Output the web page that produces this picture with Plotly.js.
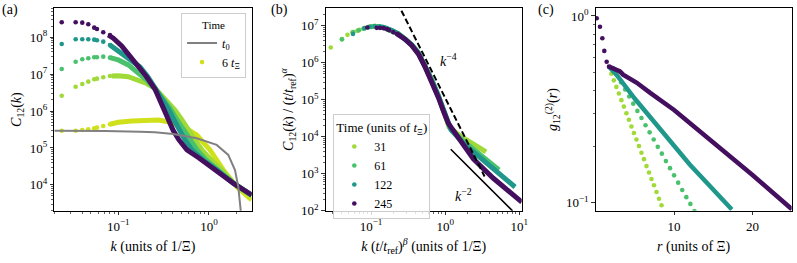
<!DOCTYPE html>
<html>
<head>
<meta charset="utf-8">
<script src="https://cdn.plot.ly/plotly-3.0.1.min.js"></script>
<style>html,body{margin:0;padding:0;background:#fff;}#plot{width:797px;height:263px;}</style>
</head>
<body>
<div id="plot"></div>
<script>
// ---------- Panel (a): C12(k) ----------
const kA_t0 = [0.0197, 0.0400, 0.0713, 0.1735, 0.2539, 0.4041, 0.7317, 1.216, 1.632, 1.935, 2.103, 2.236, 2.27];
const cA_t0 = [2.94e5, 2.96e5, 2.89e5, 2.77e5, 2.66e5, 2.40e5, 1.83e5, 1.21e5, 6.46e4, 2.53e4, 8.94e3, 2.09e3, 1.0e3];

const kA_dots = [0.0238, 0.0339, 0.0401, 0.0467, 0.0543, 0.0582, 0.0683, 0.0810];
const cA6_dots   = [2.94e5, 2.94e5, 3.07e5, 3.21e5, 3.42e5, 3.55e5, 3.95e5, 4.39e5];
const cA31_dots  = [2.61e6, 4.58e6, 5.43e6, 6.26e6, 7.28e6, 7.55e6, 8.24e6, 8.94e6];
const cA61_dots  = [1.38e7, 2.18e7, 2.53e7, 2.70e7, 2.87e7, 2.87e7, 2.98e7, 2.80e7];
const cA122_dots = [6.58e7, 8.83e7, 8.83e7, 8.83e7, 8.61e7, 8.29e7, 7.60e7, 6.18e7];
const cA245_dots = [2.55e8, 2.55e8, 2.49e8, 2.25e8, 1.82e8, 1.68e8, 1.37e8, 1.154e8];

const kA6_line = [0.081, 0.1, 0.1406, 0.197, 0.2761, 0.3558, 0.4325, 0.5209, 0.7317, 1.026, 1.438, 2.020, 2.958];
const cA6_line = [4.39e5, 4.97e5, 5.39e5, 5.74e5, 5.74e5, 5.16e5, 4.47e5, 3.78e5, 2.25e5, 8.83e4, 2.53e4, 8.94e3, 3.90e3];
const kA31_line = [0.0846, 0.1, 0.1289, 0.1595, 0.2057, 0.2539, 0.3272, 0.4219, 0.5039, 0.5870, 0.7008, 0.8372, 1.052, 1.391, 1.840, 2.958];
const cA31_line = [8.94e6, 9.11e6, 8.55e6, 6.97e6, 5.60e6, 4.15e6, 2.22e6, 1.07e6, 5.74e5, 3.07e5, 1.65e5, 8.83e4, 4.73e4, 2.53e4, 1.13e4, 5.10e3];
const kA61_line = [0.081, 0.1, 0.1289, 0.1595, 0.2057, 0.2539, 0.3033, 0.3715, 0.4436, 0.53, 0.6166, 0.7373, 0.9266, 1.256, 1.840, 2.958];
const cA61_line = [2.80e7, 2.43e7, 1.78e7, 1.17e7, 6.97e6, 3.97e6, 2.27e6, 1.20e6, 5.74e5, 3.07e5, 1.65e5, 8.83e4, 4.73e4, 2.53e4, 1.13e4, 5.16e3];
const kA122_line = [0.081, 0.1, 0.1185, 0.1416, 0.1735, 0.2126, 0.2604, 0.3033, 0.3622, 0.4117, 0.4667, 0.5439, 0.6496, 0.8587, 1.225, 1.840, 2.958];
const cA122_line = [6.18e7, 4.25e7, 3.31e7, 2.43e7, 1.57e7, 8.40e6, 3.97e6, 2.13e6, 1.07e6, 5.74e5, 3.07e5, 1.65e5, 8.83e4, 4.73e4, 2.53e4, 1.13e4, 5.23e3];
const kA245_line = [0.0776, 0.0881, 0.109, 0.1346, 0.1662, 0.2021, 0.2539, 0.2883, 0.3191, 0.3532, 0.4012, 0.4667, 0.5715, 0.7763, 1.216, 1.853, 2.958];
const cA245_line = [1.154e8, 9.40e7, 5.81e7, 3.11e7, 1.78e7, 8.94e6, 3.97e6, 2.00e6, 1.07e6, 5.74e5, 3.07e5, 1.65e5, 8.83e4, 5.36e4, 2.28e4, 1.105e4, 5.32e3];

// ---------- Panel (b): rescaled ----------
const xB31_dots = [0.0286, 0.0407, 0.0481, 0.056, 0.0652, 0.0698, 0.082, 0.0931, 0.1015];
const yB31_dots = [2.59e6, 4.37e6, 5.71e6, 6.67e6, 7.32e6, 7.79e6, 8.66e6, 9.40e6, 9.69e6];
const xB31_line = [0.1015, 0.1133, 0.1545, 0.190, 0.2334, 0.2873, 0.354, 0.4344, 0.535, 0.6585, 0.8085, 0.944, 1.127, 1.586, 2.302, 3.556];
const yB31_line = [9.69e6, 9.81e6, 8.83e6, 7.55e6, 6.07e6, 4.45e6, 3.06e6, 1.86e6, 8.26e5, 3.45e5, 1.27e5, 5.32e4, 1.84e4, 1.05e4, 6.80e3, 3.88e3];
const xB61_dots = [0.0404, 0.0575, 0.068, 0.0792, 0.0921, 0.0988];
const yB61_dots = [4.31e6, 6.76e6, 7.55e6, 8.40e6, 9.11e6, 9.40e6];
const xB61_line = [0.0988, 0.1133, 0.1545, 0.190, 0.2334, 0.2873, 0.354, 0.4344, 0.535, 0.6585, 0.8085, 0.944, 1.163, 1.687, 2.951, 5.32];
const yB61_line = [9.40e6, 9.81e6, 8.83e6, 7.55e6, 6.07e6, 4.45e6, 3.06e6, 1.86e6, 8.26e5, 3.45e5, 1.27e5, 5.32e4, 1.73e4, 8.2e3, 3.22e3, 1.26e3];
const xB122_dots = [0.0571, 0.0814, 0.0962, 0.112, 0.130, 0.140];
const yB122_dots = [6.0e6, 8.66e6, 9.40e6, 9.69e6, 9.69e6, 9.40e6];
const xB122_line = [0.140, 0.1545, 0.190, 0.2334, 0.2873, 0.354, 0.4344, 0.535, 0.6585, 0.8085, 0.944, 1.199, 1.852, 3.446, 8.75];
const yB122_line = [9.40e6, 8.83e6, 7.55e6, 6.07e6, 4.45e6, 3.06e6, 1.86e6, 8.26e5, 3.45e5, 1.27e5, 5.32e4, 1.53e4, 6.0e3, 2.08e3, 4.38e2];
const xB245_dots = [0.0891, 0.1194, 0.1322, 0.1475, 0.1643, 0.1749, 0.1999, 0.2242];
const yB245_dots = [8.99e6, 8.83e6, 8.83e6, 8.66e6, 8.14e6, 7.65e6, 6.75e6, 6.07e6];
const xB245_line = [0.2242, 0.2873, 0.354, 0.4344, 0.535, 0.6585, 0.8085, 0.944, 1.103, 1.586, 2.397, 4.46, 10.8];
const yB245_line = [6.07e6, 4.37e6, 2.97e6, 1.75e6, 7.76e5, 3.24e5, 1.16e5, 5.0e4, 2.30e4, 8.2e3, 2.51e3, 7.53e2, 1.72e2];
const xB_k4 = [0.2, 3.4];
const yB_k4 = [7.01e7, 840];
const xB_k2 = [1.188, 8.1];
const yB_k2 = [4.59e3, 98.7];

// ---------- Panel (c): g12(r) ----------
const rC245_dots = [0.13, 0.55, 0.85, 1.1, 1.4, 1.7];
const gC245_dots = [0.972, 0.876, 0.76, 0.65, 0.569, 0.535];
const rC245_line = [1.7, 2.25, 3.1, 3.5, 4.2, 5.2, 7, 10, 15, 20, 25.03];
const gC245_line = [0.535, 0.525, 0.505, 0.485, 0.468, 0.440, 0.386, 0.3136, 0.210, 0.1407, 0.0922];
const rC122_line = [1.7, 2.68, 5.0, 8.43, 12.0, 17.37];
const gC122_line = [0.535, 0.483, 0.36, 0.24, 0.16, 0.092];
const rC61 = [2.2, 2.72, 3.24, 3.76, 4.28, 4.80, 5.32, 5.84, 6.36, 6.88, 7.40, 7.92, 8.44, 8.96, 9.48, 10.0, 10.52, 11.04, 11.56, 12.08, 12.6];
const gC61 = [0.526, 0.482, 0.441, 0.404, 0.370, 0.339, 0.310, 0.284, 0.260, 0.238, 0.218, 0.199, 0.183, 0.167, 0.153, 0.140, 0.128, 0.117, 0.107, 0.0985, 0.0901];
const rC31 = [2.0, 2.32, 2.64, 2.96, 3.28, 3.6, 3.92, 4.24, 4.56, 4.88, 5.2, 5.52, 5.84, 6.16, 6.48, 6.8, 7.12, 7.44, 7.76, 8.08, 8.4];
const gC31 = [0.490, 0.452, 0.417, 0.384, 0.354, 0.327, 0.301, 0.278, 0.256, 0.236, 0.218, 0.201, 0.185, 0.171, 0.157, 0.145, 0.134, 0.124, 0.114, 0.105, 0.0969];

const COL = {t0:'#808080', s6:'#d0e11c', s31:'#a0da39', s61:'#4ac16d', s122:'#1f988b', s245:'#440f5e'};
const FONT = 'Liberation Serif';
const MS = 4.6, LW = 5;

function dots(x, y, c, ax, extra) {
  return Object.assign({type:'scatter', mode:'markers', x, y, xaxis:ax[0], yaxis:ax[1],
    marker:{color:c, size:MS, line:{width:0}}, showlegend:false, hoverinfo:'skip'}, extra||{});
}
function line(x, y, c, ax, w, extra) {
  return Object.assign({type:'scatter', mode:'lines', x, y, xaxis:ax[0], yaxis:ax[1],
    line:{color:c, width:w||LW}, showlegend:false, hoverinfo:'skip'}, extra||{});
}
const A = ['x','y'], B = ['x2','y2'], C = ['x3','y3'];

const traces = [
  // (a)
  line(kA6_line, cA6_line, COL.s6, A),
  dots(kA_dots, cA6_dots, COL.s6, A, {showlegend:true, name:'6 <i>t</i><sub>Ξ</sub>', legend:'legend', legendrank:2}),
  line(kA31_line, cA31_line, COL.s31, A), dots(kA_dots, cA31_dots, COL.s31, A),
  line(kA61_line, cA61_line, COL.s61, A), dots(kA_dots, cA61_dots, COL.s61, A),
  line(kA122_line, cA122_line, COL.s122, A), dots(kA_dots, cA122_dots, COL.s122, A),
  line(kA245_line, cA245_line, COL.s245, A), dots(kA_dots, cA245_dots, COL.s245, A),
  line(kA_t0, cA_t0, COL.t0, A, 2, {showlegend:true, name:'<i>t</i><sub>0</sub>', legend:'legend', legendrank:1}),
  // (b)
  line(xB31_line, yB31_line, COL.s31, B),
  dots(xB31_dots, yB31_dots, COL.s31, B, {showlegend:true, name:'31', legend:'legend2'}),
  line(xB61_line, yB61_line, COL.s61, B),
  dots(xB61_dots, yB61_dots, COL.s61, B, {showlegend:true, name:'61', legend:'legend2'}),
  line(xB122_line, yB122_line, COL.s122, B),
  dots(xB122_dots, yB122_dots, COL.s122, B, {showlegend:true, name:'122', legend:'legend2'}),
  line(xB245_line, yB245_line, COL.s245, B),
  dots(xB245_dots, yB245_dots, COL.s245, B, {showlegend:true, name:'245', legend:'legend2'}),
  {type:'scatter', mode:'lines', x:xB_k4, y:yB_k4, xaxis:'x2', yaxis:'y2', line:{color:'#000', width:2, dash:'6px,3px'}, showlegend:false, hoverinfo:'skip'},
  {type:'scatter', mode:'lines', x:xB_k2, y:yB_k2, xaxis:'x2', yaxis:'y2', line:{color:'#000', width:1.6}, showlegend:false, hoverinfo:'skip'},
  // (c)
  dots(rC31, gC31, COL.s31, C),
  dots(rC61, gC61, COL.s61, C),
  line(rC122_line, gC122_line, COL.s122, C, 4.5),
  line(rC245_line, gC245_line, COL.s245, C, 4.5),
  dots(rC245_dots, gC245_dots, COL.s245, C),
];

function minorLog(d0, d1) { const v=[]; for (let e=d0; e<=d1; e++) for (let m=2; m<=9; m++) v.push(m*Math.pow(10,e)); return v; }
function sup(e){ return '10<sup>'+(e<0?'−'+(-e):e)+'</sup>'; }

const axBase = {showline:true, linecolor:'#000', linewidth:1, mirror:true, ticks:'outside', ticklen:3.5, tickwidth:0.8,
  tickcolor:'#000', showgrid:false, zeroline:false, automargin:false, tickfont:{family:FONT, size:13, color:'#000'}};
function ax(o){ return Object.assign({}, axBase, o); }
const tfont = {family:FONT, size:14, color:'#000'};
const minorBase = {tickmode:'array', ticks:'outside', ticklen:2, tickwidth:0.6, tickcolor:'#000'};

const layout = {
  width:797, height:263, margin:{l:0, r:0, t:0, b:0}, paper_bgcolor:'#fff', plot_bgcolor:'#fff',
  font:{family:FONT, color:'#000'},
  xaxis: ax({type:'log', domain:[0.0681, 0.3158], range:[-1.7056, 0.471], anchor:'y',
    tickmode:'array', tickvals:[0.1, 1], ticktext:[sup(-1), sup(0)],
    minor:Object.assign({tickvals:minorLog(-2, 0)}, minorBase),
    title:{text:'<i>k</i> (units of 1/Ξ)', font:tfont, standoff:8}}),
  yaxis: ax({type:'log', domain:[0.1989, 0.9677], range:[3.30, 8.78], anchor:'x',
    tickmode:'array', tickvals:[1e4,1e5,1e6,1e7,1e8], ticktext:[sup(4),sup(5),sup(6),sup(7),sup(8)],
    minor:Object.assign({tickvals:minorLog(3, 8)}, minorBase),
    title:{text:'<i>C</i><sub>12</sub>(<i>k</i>)', font:tfont, standoff:4}}),
  xaxis2: ax({type:'log', domain:[0.4087, 0.6546], range:[-1.611, 1.032], anchor:'y2',
    tickmode:'array', tickvals:[0.1, 1, 10], ticktext:[sup(-1), sup(0), sup(1)],
    minor:Object.assign({tickvals:minorLog(-2, 0)}, minorBase),
    title:{text:'<i>k</i> (<i>t</i>/<i>t</i><sub>ref</sub>)<sup><i>β</i></sup> (units of 1/Ξ)', font:tfont, standoff:8}}),
  yaxis2: ax({type:'log', domain:[0.1989, 0.9677], range:[2.0, 7.47], anchor:'x2',
    tickmode:'array', tickvals:[1e2,1e3,1e4,1e5,1e6,1e7], ticktext:[sup(2),sup(3),sup(4),sup(5),sup(6),sup(7)],
    minor:Object.assign({tickvals:minorLog(2, 7)}, minorBase),
    title:{text:'<i>C</i><sub>12</sub>(<i>k</i>) / (<i>t</i>/<i>t</i><sub>ref</sub>)<sup><i>α</i></sup>', font:tfont, standoff:4}}),
  xaxis3: ax({domain:[0.7474, 0.9933], range:[0, 25], anchor:'y3',
    tickmode:'array', tickvals:[10, 20], ticktext:['10','20'],
    title:{text:'<i>r</i> (units of Ξ)', font:tfont, standoff:8}}),
  yaxis3: ax({type:'log', domain:[0.1989, 0.9677], range:[-1.043, 0.040], anchor:'x3',
    tickmode:'array', tickvals:[0.1, 1], ticktext:[sup(-1), sup(0)],
    minor:Object.assign({tickvals:minorLog(-1, -1)}, minorBase),
    title:{text:'<i>g</i><sub>12</sub><sup>(2)</sup>(<i>r</i>)', font:tfont, standoff:4}}),
  legend: {x:0.3087, y:0.9494, xanchor:'right', yanchor:'top', bgcolor:'rgba(255,255,255,0.8)', bordercolor:'#cccccc', borderwidth:1,
    font:{family:FONT, size:12, color:'#000'}, itemwidth:30, tracegroupgap:0,
    title:{text:'Time', side:'top center', font:{family:FONT, size:11, color:'#000'}}},
  legend2: {x:0.4182, y:0.566, xanchor:'left', yanchor:'top', bgcolor:'rgba(255,255,255,0.8)', bordercolor:'#cccccc', borderwidth:1,
    font:{family:FONT, size:12, color:'#000'}, itemwidth:30, tracegroupgap:0,
    title:{text:'Time (units of <i>t</i><sub>Ξ</sub>)', side:'top center', font:{family:FONT, size:13, color:'#000'}}},
  annotations: [
    {xref:'paper', yref:'paper', x:0.0, y:1.0, xanchor:'left', yanchor:'top', text:'(a)', showarrow:false, font:{family:FONT, size:14}},
    {xref:'paper', yref:'paper', x:0.337, y:1.0, xanchor:'left', yanchor:'top', text:'(b)', showarrow:false, font:{family:FONT, size:14}},
    {xref:'paper', yref:'paper', x:0.672, y:1.0, xanchor:'left', yanchor:'top', text:'(c)', showarrow:false, font:{family:FONT, size:14}},
    {xref:'x2', yref:'y2', x:Math.log10(1.10), y:Math.log10(1.2e6), text:'<i>k</i><sup>−4</sup>', showarrow:false, font:{family:FONT, size:14}},
    {xref:'x2', yref:'y2', x:Math.log10(1.757), y:Math.log10(266), text:'<i>k</i><sup>−2</sup>', showarrow:false, font:{family:FONT, size:14}}
  ]
};

Plotly.newPlot('plot', traces, layout, {staticPlot:true, displayModeBar:false});
</script>
</body>
</html>
